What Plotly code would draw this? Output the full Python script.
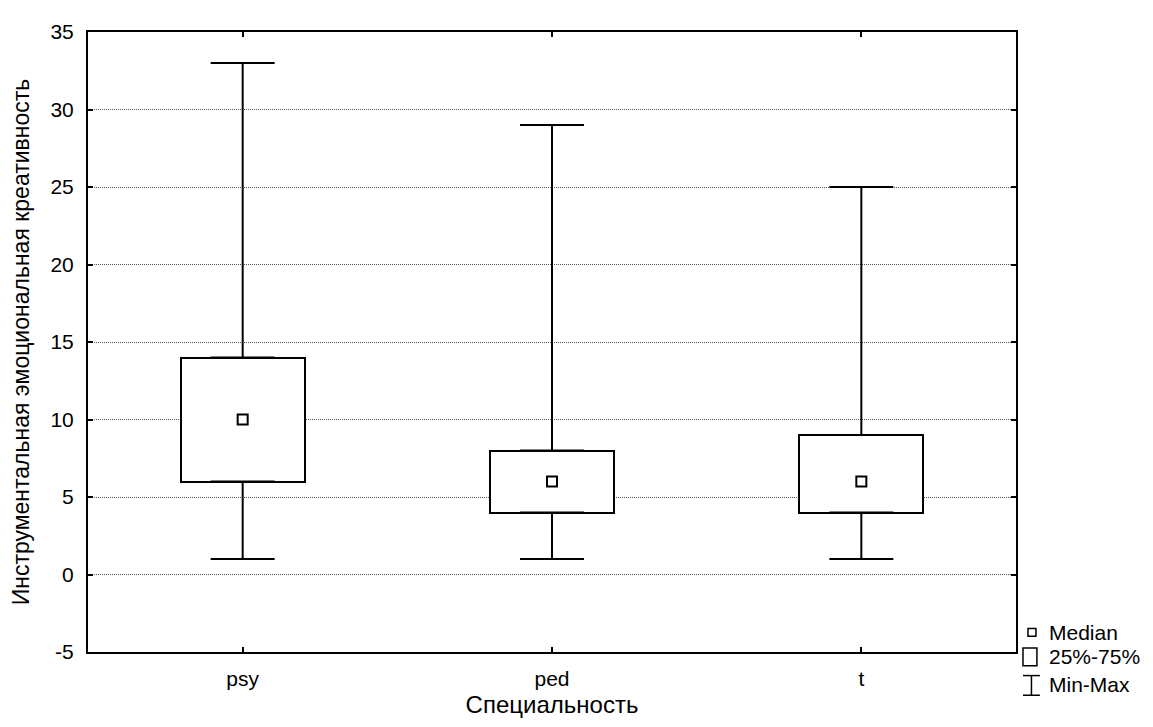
import plotly.graph_objects as go

categories = ["psy", "ped", "t"]
q_min = [1, 1, 1]
q1 = [6, 4, 4]
median = [10, 6, 6]
q3 = [14, 8, 9]
q_max = [33, 29, 25]

y_ticks = [-5, 0, 5, 10, 15, 20, 25, 30, 35]
y_tick_labels = [str(v) for v in y_ticks]

# page body has an 8px default margin; compensate
OFF = 8
W, H = 1153 - OFF, 727 - OFF
ML, MR, MT, MB = 85 - OFF, 137, 21 - OFF, 75
PW, PH = W - ML - MR, H - MT - MB

FONT = "Liberation Sans, Arial, sans-serif"
xpos = list(range(len(categories)))

fig = go.Figure()

# Boxes (25%-75%)
fig.add_trace(go.Bar(
    x=xpos, y=[b - a for a, b in zip(q1, q3)], base=q1, width=0.4,
    marker=dict(color="white", line=dict(color="black", width=2)),
    showlegend=False, hoverinfo="skip"))

# Upper whiskers (from Q3 to max)
fig.add_trace(go.Scatter(
    x=xpos, y=q3, mode="markers", marker=dict(size=0.1, color="rgba(0,0,0,0)"),
    error_y=dict(type="data", symmetric=False,
                 array=[m - b for m, b in zip(q_max, q3)],
                 arrayminus=[0] * len(q3),
                 color="black", thickness=2, width=32),
    showlegend=False, hoverinfo="skip"))

# Lower whiskers (from min to Q1)
fig.add_trace(go.Scatter(
    x=xpos, y=q1, mode="markers", marker=dict(size=0.1, color="rgba(0,0,0,0)"),
    error_y=dict(type="data", symmetric=False,
                 array=[0] * len(q1),
                 arrayminus=[a - m for a, m in zip(q1, q_min)],
                 color="black", thickness=2, width=32),
    showlegend=False, hoverinfo="skip"))

# Medians
fig.add_trace(go.Scatter(
    x=xpos, y=median, mode="markers",
    marker=dict(symbol="square", size=10, color="white",
                line=dict(color="black", width=2)),
    showlegend=False, hoverinfo="skip"))

# screen pixel -> paper coordinates
def px_x(p):
    return (p - OFF - ML) / PW

def px_y(p):
    return (OFF + H - MB - p) / PH

shapes = []
# legend icons
shapes.append(dict(type="rect", xref="paper", yref="paper",
                   x0=px_x(1028), x1=px_x(1036), y0=px_y(636), y1=px_y(628),
                   line=dict(color="black", width=1.5), fillcolor="white"))
shapes.append(dict(type="rect", xref="paper", yref="paper",
                   x0=px_x(1023), x1=px_x(1037), y0=px_y(666), y1=px_y(648),
                   line=dict(color="black", width=1.5), fillcolor="white"))
for (x0, y0, x1, y1) in [(1023, 676, 1040, 676), (1023, 696, 1040, 696), (1031.5, 676, 1031.5, 696)]:
    shapes.append(dict(type="line", xref="paper", yref="paper",
                       x0=px_x(x0), x1=px_x(x1), y0=px_y(y0), y1=px_y(y1),
                       line=dict(color="black", width=1.5)))

annotations = []
for label, py in [("Median", 632), ("25%-75%", 657), ("Min-Max", 685)]:
    annotations.append(dict(text=label, xref="paper", yref="paper",
                            x=px_x(1047), y=px_y(py), xanchor="left", yanchor="middle",
                            showarrow=False, font=dict(family=FONT, size=21, color="black")))

fig.update_layout(
    width=W, height=H,
    margin=dict(l=ML, r=MR, t=MT, b=MB, pad=0),
    plot_bgcolor="white", paper_bgcolor="white",
    font=dict(family=FONT, size=21, color="black"),
    showlegend=False,
    bargap=0,
    shapes=shapes,
    annotations=annotations,
    xaxis=dict(
        range=[-0.5, len(categories) - 0.5],
        tickvals=xpos, ticktext=categories,
        showline=True, linecolor="black", linewidth=2, mirror="ticks",
        ticks="inside", ticklen=5, tickwidth=2, tickcolor="black",
        showgrid=False, zeroline=False,
        ticklabelstandoff=7,
        title=dict(text="Специальность", font=dict(family=FONT, size=24), standoff=7),
        tickfont=dict(family=FONT, size=21),
    ),
    yaxis=dict(
        range=[-5, 35],
        tickvals=y_ticks, ticktext=y_tick_labels,
        showline=True, linecolor="black", linewidth=2, mirror="ticks",
        ticks="inside", ticklen=5, tickwidth=2, tickcolor="black",
        showgrid=True, gridcolor="#555555", gridwidth=1, griddash="1px,1px",
        zeroline=False,
        ticklabelstandoff=8,
        title=dict(text="Инструментальная эмоциональная креативность",
                   font=dict(family=FONT, size=23), standoff=14),
        tickfont=dict(family=FONT, size=21),
    ),
)

fig.write_html("out.html")
